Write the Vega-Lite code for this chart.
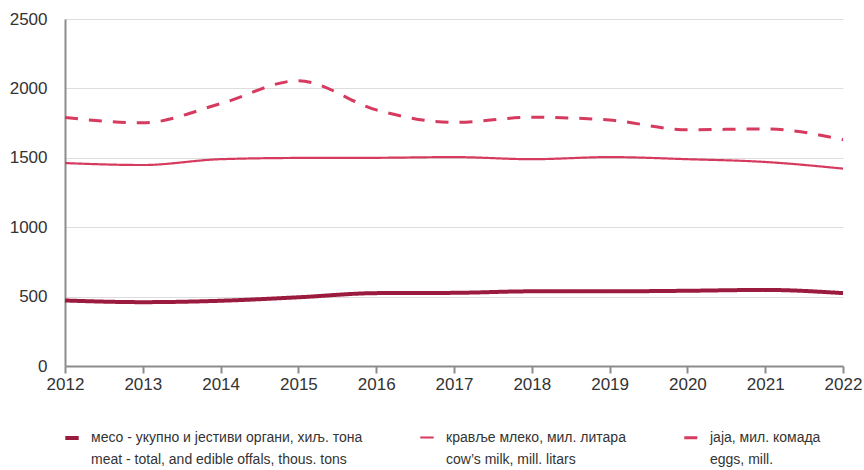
{
  "$schema": "https://vega.github.io/schema/vega-lite/v6.json",
  "width": 778,
  "height": 347,
  "autosize": "none",
  "padding": {"left": 65, "top": 19, "right": 21, "bottom": 104},
  "background": "#ffffff",
  "config": {
    "font": "Liberation Sans",
    "view": {"stroke": null},
    "style": {"guide-label": {"lineHeight": 22}}
  },
  "data": {
    "values": [
      {"year": 2012, "series": "месо - укупно и јестиви органи, хиљ. тона|meat - total, and edible offals, thous. tons", "value": 472},
      {"year": 2013, "series": "месо - укупно и јестиви органи, хиљ. тона|meat - total, and edible offals, thous. tons", "value": 460},
      {"year": 2014, "series": "месо - укупно и јестиви органи, хиљ. тона|meat - total, and edible offals, thous. tons", "value": 470},
      {"year": 2015, "series": "месо - укупно и јестиви органи, хиљ. тона|meat - total, and edible offals, thous. tons", "value": 495},
      {"year": 2016, "series": "месо - укупно и јестиви органи, хиљ. тона|meat - total, and edible offals, thous. tons", "value": 525},
      {"year": 2017, "series": "месо - укупно и јестиви органи, хиљ. тона|meat - total, and edible offals, thous. tons", "value": 527},
      {"year": 2018, "series": "месо - укупно и јестиви органи, хиљ. тона|meat - total, and edible offals, thous. tons", "value": 538},
      {"year": 2019, "series": "месо - укупно и јестиви органи, хиљ. тона|meat - total, and edible offals, thous. tons", "value": 538},
      {"year": 2020, "series": "месо - укупно и јестиви органи, хиљ. тона|meat - total, and edible offals, thous. tons", "value": 542},
      {"year": 2021, "series": "месо - укупно и јестиви органи, хиљ. тона|meat - total, and edible offals, thous. tons", "value": 548},
      {"year": 2022, "series": "месо - укупно и јестиви органи, хиљ. тона|meat - total, and edible offals, thous. tons", "value": 525},
      {"year": 2012, "series": "кравље млеко, мил. литара|cow’s milk, mill. litars", "value": 1462},
      {"year": 2013, "series": "кравље млеко, мил. литара|cow’s milk, mill. litars", "value": 1448},
      {"year": 2014, "series": "кравље млеко, мил. литара|cow’s milk, mill. litars", "value": 1490},
      {"year": 2015, "series": "кравље млеко, мил. литара|cow’s milk, mill. litars", "value": 1499},
      {"year": 2016, "series": "кравље млеко, мил. литара|cow’s milk, mill. litars", "value": 1500},
      {"year": 2017, "series": "кравље млеко, мил. литара|cow’s milk, mill. litars", "value": 1505},
      {"year": 2018, "series": "кравље млеко, мил. литара|cow’s milk, mill. litars", "value": 1490},
      {"year": 2019, "series": "кравље млеко, мил. литара|cow’s milk, mill. litars", "value": 1505},
      {"year": 2020, "series": "кравље млеко, мил. литара|cow’s milk, mill. litars", "value": 1490},
      {"year": 2021, "series": "кравље млеко, мил. литара|cow’s milk, mill. litars", "value": 1470},
      {"year": 2022, "series": "кравље млеко, мил. литара|cow’s milk, mill. litars", "value": 1422},
      {"year": 2012, "series": "јаја, мил. комада|eggs, mill.", "value": 1790},
      {"year": 2013, "series": "јаја, мил. комада|eggs, mill.", "value": 1752},
      {"year": 2014, "series": "јаја, мил. комада|eggs, mill.", "value": 1890},
      {"year": 2015, "series": "јаја, мил. комада|eggs, mill.", "value": 2055},
      {"year": 2016, "series": "јаја, мил. комада|eggs, mill.", "value": 1845},
      {"year": 2017, "series": "јаја, мил. комада|eggs, mill.", "value": 1755},
      {"year": 2018, "series": "јаја, мил. комада|eggs, mill.", "value": 1792},
      {"year": 2019, "series": "јаја, мил. комада|eggs, mill.", "value": 1772},
      {"year": 2020, "series": "јаја, мил. комада|eggs, mill.", "value": 1702},
      {"year": 2021, "series": "јаја, мил. комада|eggs, mill.", "value": 1708},
      {"year": 2022, "series": "јаја, мил. комада|eggs, mill.", "value": 1630}
    ]
  },
  "mark": {"type": "line", "interpolate": "monotone"},
  "encoding": {
    "x": {
      "field": "year",
      "type": "quantitative",
      "scale": {"domain": [2012, 2022], "nice": false, "zero": false},
      "axis": {
        "title": null,
        "values": [2012, 2013, 2014, 2015, 2016, 2017, 2018, 2019, 2020, 2021, 2022],
        "format": "d",
        "grid": false,
        "domainColor": "#8c8c8c",
        "domainWidth": 2,
        "tickColor": "#8c8c8c",
        "tickWidth": 2,
        "tickSize": 7,
        "labelFontSize": 17,
        "labelColor": "#333333",
        "labelPadding": 3,
        "labelFlush": false
      }
    },
    "y": {
      "field": "value",
      "type": "quantitative",
      "scale": {"domain": [0, 2500], "nice": false},
      "axis": {
        "title": null,
        "values": [0, 500, 1000, 1500, 2000, 2500],
        "format": "d",
        "grid": true,
        "gridColor": "#dddddd",
        "gridWidth": 1,
        "domainColor": "#8c8c8c",
        "domainWidth": 2,
        "ticks": false,
        "labelFontSize": 17,
        "labelColor": "#333333",
        "labelPadding": 18
      }
    },
    "color": {
      "field": "series",
      "type": "nominal",
      "sort": null,
      "scale": {"range": ["#9b1b3e", "#d63a5e", "#d63a5e"]},
      "legend": {
        "title": null,
        "orient": "none",
        "legendX": -2,
        "legendY": 410,
        "direction": "horizontal",
        "columns": 3,
        "columnPadding": 52,
        "symbolType": "stroke",
        "symbolSize": 180,
        "labelFontSize": 14,
        "labelColor": "#333333",
        "labelExpr": "split(datum.label, '|')",
        "labelLimit": 400,
        "labelOffset": 10
      }
    },
    "strokeDash": {
      "field": "series",
      "type": "nominal",
      "sort": null,
      "scale": {"type": "ordinal", "range": [[1, 0], [1, 0], [13, 11]]},
      "legend": null
    },
    "strokeWidth": {
      "field": "series",
      "type": "nominal",
      "sort": null,
      "scale": {"type": "ordinal", "range": [4, 2.2, 3]},
      "legend": null
    }
  }
}
